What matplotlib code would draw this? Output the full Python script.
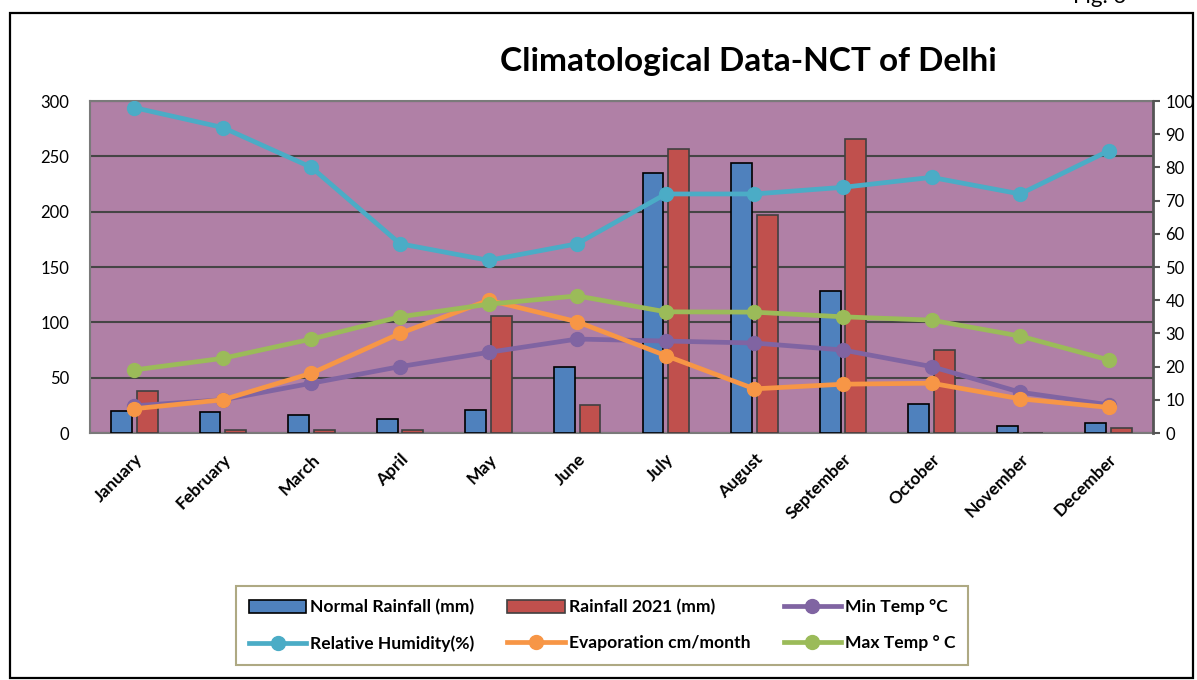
import matplotlib
matplotlib.use("Agg")
import matplotlib.pyplot as plt
from matplotlib.patches import Rectangle
import numpy as np

plt.rcParams['font.family'] = ['Lato', 'DejaVu Sans']

months = ["January", "February", "March", "April", "May", "June", "July",
          "August", "September", "October", "November", "December"]
normal_rain = [20, 19, 16, 13, 21, 60, 235, 244, 128, 26, 6, 9]
rain_2021 = [38, 3, 3, 2.5, 106, 25, 257, 197, 266, 75, 0, 4.5]
min_temp = [8.2, 10, 15, 20, 24.3, 28.3, 27.7, 27.1, 25, 20, 12.3, 8.5]
humidity = [98, 92, 80, 57, 52, 57, 72, 72, 74, 77, 72, 85]
evaporation = [7.3, 10, 18, 30, 40, 33.5, 23.3, 13.3, 14.7, 15, 10.3, 7.7]
max_temp = [19, 22.5, 28.3, 35, 38.8, 41.3, 36.5, 36.4, 35, 34, 29.2, 22]

left_ticks = [0, 50, 100, 150, 200, 250, 300]
right_ticks = list(range(0, 101, 10))

C_BG = "#b080a6"
C_BLUE = "#4f81bd"
C_RED = "#c0504d"
C_PURPLE = "#8064a2"
C_CYAN = "#4bacc6"
C_ORANGE = "#f79646"
C_GREEN = "#9bbb59"
C_GRID = "#454545"

W, H = 1197, 680
fig = plt.figure(figsize=(W / 100, H / 100), dpi=100)

# outer frame
fig.patches.append(Rectangle((10 / W, 1 - 678 / H), (1193 - 10) / W, (678 - 13) / H,
                             transform=fig.transFigure, fill=False,
                             edgecolor="black", linewidth=1.6))
fig.text(1100 / W, 1 - 7 / H, "Fig. 3", ha="center", va="bottom", fontsize=16)

ax = fig.add_axes([90 / W, 1 - 433 / H, (1153 - 90) / W, (433 - 101) / H])
ax.set_facecolor(C_BG)
x = np.arange(len(months))
bw = 0.235
ax.bar(x - 0.145, normal_rain, width=bw, color=C_BLUE, edgecolor="black",
       linewidth=1.2, zorder=3, label="Normal Rainfall (mm)")
ax.bar(x + 0.145, rain_2021, width=bw, color=C_RED, edgecolor="#404040",
       linewidth=1.2, zorder=3, label="Rainfall 2021 (mm)")
ax.set_xlim(-0.5, 11.5)
ax.set_ylim(0, 300)
ax.set_yticks(left_ticks)
ax.yaxis.grid(True, color=C_GRID, linewidth=1.5, zorder=1)
ax.set_axisbelow(True)
ax.tick_params(axis="y", length=0, labelsize=12, pad=15)
ax.set_xticks(x)
ax.set_xticklabels(months, rotation=45, ha="right", rotation_mode="anchor",
                   fontweight="bold", fontsize=12.5)
ax.tick_params(axis="x", length=0, pad=13)
for s in ["top", "bottom", "left"]:
    ax.spines[s].set_color("#7a7a7a")
    ax.spines[s].set_linewidth(1.5)
ax.spines["right"].set_visible(False)

ax2 = ax.twinx()
ax2.set_ylim(0, 100)
ax2.set_yticks(right_ticks)
ax2.tick_params(axis="y", direction="out", length=5, width=1.5, color="#555555",
                labelsize=12, pad=4)
for s in ["top", "bottom", "left"]:
    ax2.spines[s].set_visible(False)
ax2.spines["right"].set_color("#555555")
ax2.spines["right"].set_linewidth(2)

lw, ms = 3.4, 10
ax2.plot(x, min_temp, color=C_PURPLE, lw=lw, marker="o", ms=ms, label="Min Temp \u00b0C", zorder=4)
ax2.plot(x, humidity, color=C_CYAN, lw=lw, marker="o", ms=ms, label="Relative Humidity(%)", zorder=4)
ax2.plot(x, evaporation, color=C_ORANGE, lw=lw, marker="o", ms=ms, label="Evaporation cm/month", zorder=4)
ax2.plot(x, max_temp, color=C_GREEN, lw=lw, marker="o", ms=ms, label="Max Temp \u00b0 C", zorder=4)

fig.text(748 / W, 1 - 62 / H, "Climatological Data-NCT of Delhi", ha="center",
         va="center", fontsize=24, fontweight="bold")

h1, l1 = ax.get_legend_handles_labels()
h2, l2 = ax2.get_legend_handles_labels()
# order for ncol=3 column-major fill
handles = [h1[0], h2[1], h1[1], h2[2], h2[0], h2[3]]
labels = [l1[0], l2[1], l1[1], l2[2], l2[0], l2[3]]
leg = fig.legend(handles, labels, ncol=3, loc="center",
                 bbox_to_anchor=(602 / W, 1 - 625.5 / H), frameon=True, fancybox=False,
                 edgecolor="#9a9464", prop={"weight": "bold", "size": 12.6},
                 handlelength=3.3, handleheight=0.75, handletextpad=0.2,
                 columnspacing=1.9, labelspacing=1.15, borderpad=0.75,
                 borderaxespad=0)
leg.get_frame().set_linewidth(1.5)

fig.savefig("out.png", dpi=100)
